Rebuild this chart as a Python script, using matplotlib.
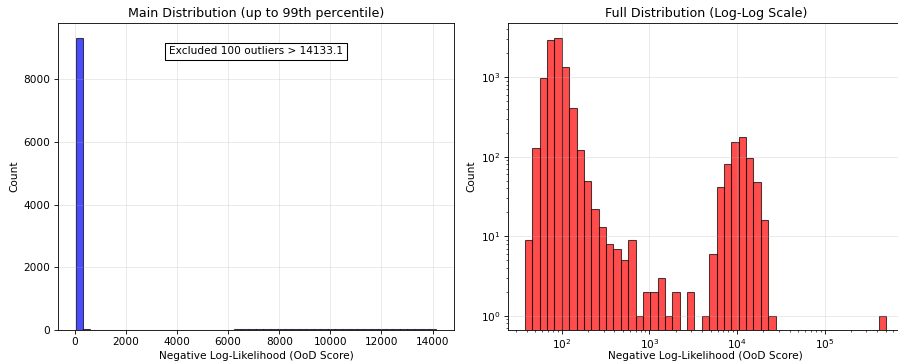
import numpy as np
import matplotlib
matplotlib.use("Agg")
import matplotlib.pyplot as plt

# Left panel: linear histogram of scores up to the 99th percentile (50 bins)
lin_lo, lin_hi = 38.0, 14133.1
lin_counts = [
    9330, 25, 6, 3, 3, 1, 1, 1, 0, 1,
    1, 0, 0, 0, 1, 0, 1, 1, 2, 2,
    3, 6, 8, 10, 12, 13, 14, 16, 17, 18,
    20, 22, 23, 24, 25, 25, 24, 26, 24, 23,
    22, 21, 20, 18, 17, 15, 13, 12, 11, 10,
]
n_outliers = 100

# Right panel: log-spaced histogram of all scores (49 bins)
log_lo, log_hi = 38.1, 5.03e5
log_counts = [
    9, 127, 990, 2960, 3140, 1330, 405, 120, 50, 22,
    13, 8, 7, 5, 9, 1, 2, 2, 3, 1,
    2, 0, 2, 0, 1, 6, 42, 82, 151, 175,
    96, 48, 16, 1, 0, 0, 0, 0, 0, 0,
    0, 0, 0, 0, 0, 0, 0, 0, 1,
]

lin_edges = np.linspace(lin_lo, lin_hi, len(lin_counts) + 1)
log_edges = np.logspace(np.log10(log_lo), np.log10(log_hi), len(log_counts) + 1)

DPI = 76
fig = plt.figure(figsize=(898 / DPI, 364 / DPI), dpi=DPI)
ax1 = fig.add_axes([0.0643, 0.0942, 0.4413, 0.8418])
ax2 = fig.add_axes([0.5654, 0.0942, 0.4413, 0.8418])

# main distribution
centers = 0.5 * (lin_edges[:-1] + lin_edges[1:])
ax1.hist(centers, bins=lin_edges, weights=lin_counts, color="blue",
         alpha=0.7, edgecolor="black")
ax1.set_title("Main Distribution (up to 99th percentile)", fontsize=12)
ax1.set_xlabel("Negative Log-Likelihood (OoD Score)")
ax1.set_ylabel("Count")
ax1.grid(True, alpha=0.3)
ax1.text(0.5, 0.908, f"Excluded {n_outliers} outliers > {lin_hi}",
         transform=ax1.transAxes, ha="center", va="center",
         bbox=dict(boxstyle="square,pad=0.35", facecolor="white",
                   edgecolor="black"))

# full distribution, log-log
log_centers = np.sqrt(log_edges[:-1] * log_edges[1:])
ax2.hist(log_centers, bins=log_edges, weights=log_counts, color="red",
         alpha=0.7, edgecolor="black")
ax2.set_xscale("log")
ax2.set_yscale("log")
ax2.set_xlim(24.2, 10 ** 5.907)
ax2.set_ylim(0.667, 4760)
ax2.set_title("Full Distribution (Log-Log Scale)", fontsize=12)
ax2.set_xlabel("Negative Log-Likelihood (OoD Score)", labelpad=0.5)
ax2.set_ylabel("Count")
ax2.grid(True, alpha=0.3)

fig.savefig("out.png", dpi=DPI, facecolor="white")
